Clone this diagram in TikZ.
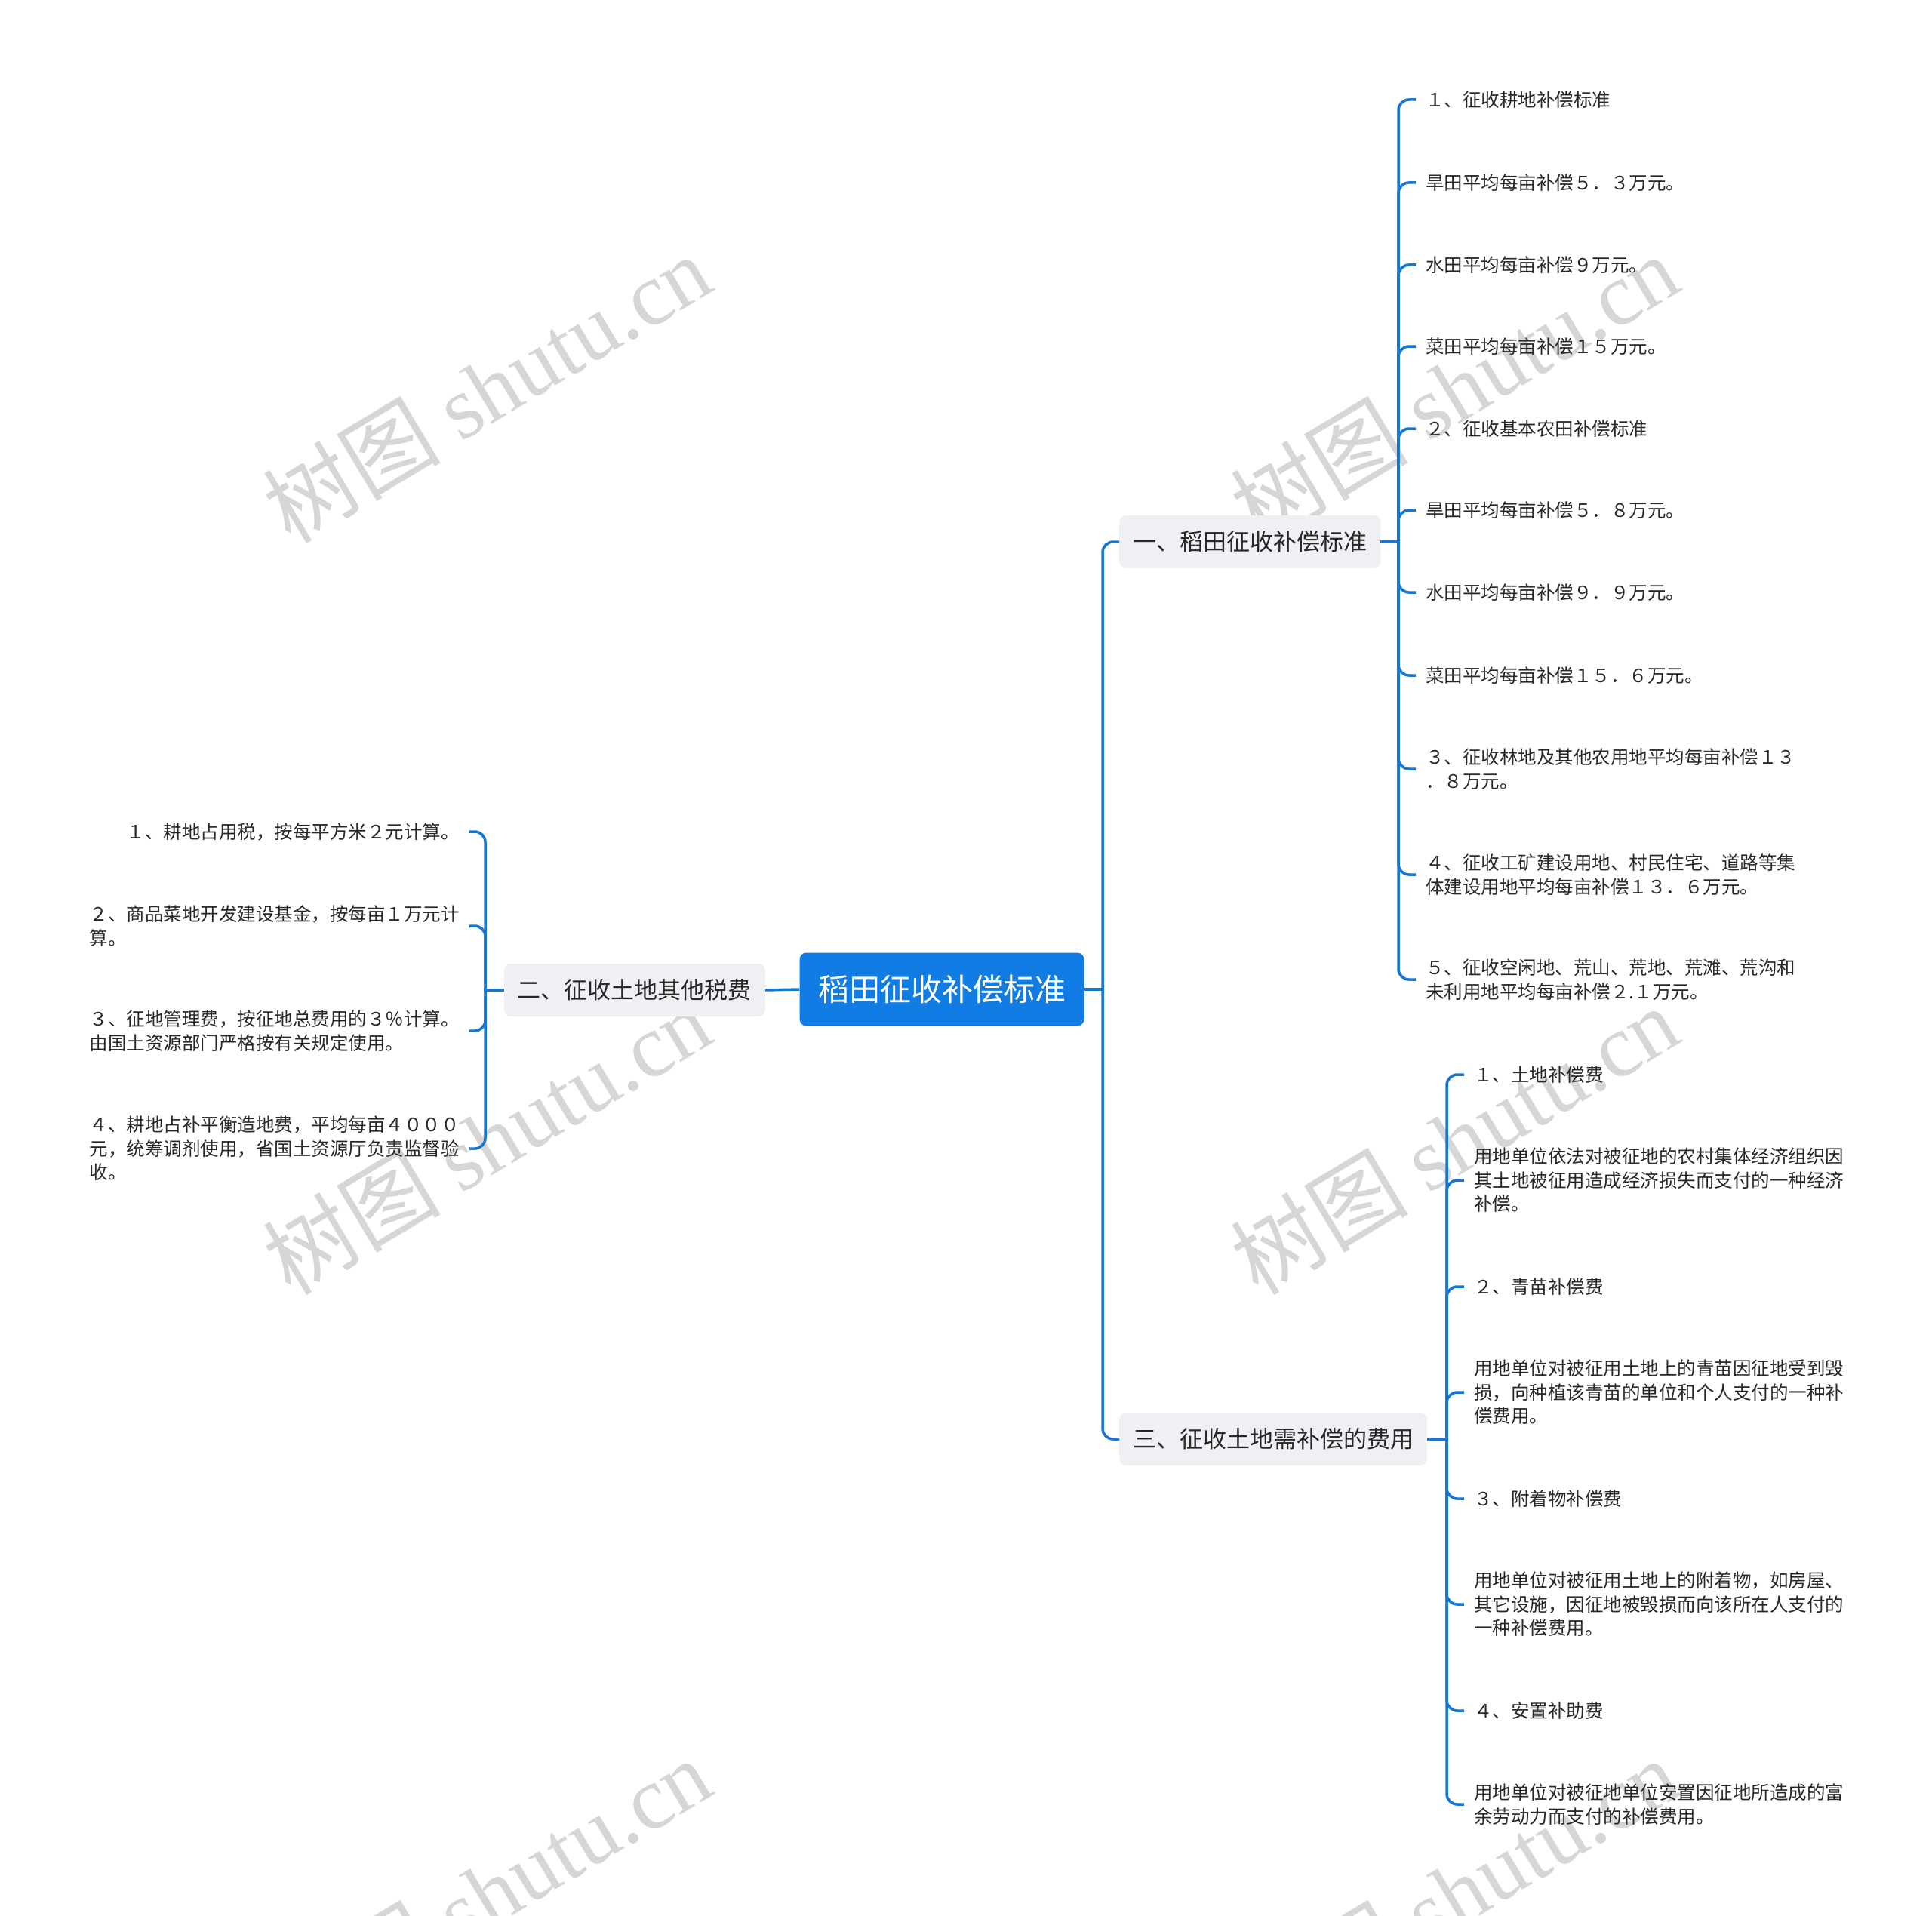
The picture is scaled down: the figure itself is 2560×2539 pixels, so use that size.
\documentclass[tikz,border=0pt]{standalone}
\usepackage{fontspec}
\setmainfont{Noto Sans CJK SC}
\newfontfamily\wmserif{Liberation Serif}
\definecolor{mapblue}{RGB}{17,124,228}
\definecolor{linkblue}{RGB}{22,118,214}
\definecolor{branchgray}{RGB}{238,240,243}
\definecolor{txt}{RGB}{40,40,40}
\definecolor{wmgray}{RGB}{214,214,214}
\begin{document}
\begin{tikzpicture}[x=1pt,y=-1pt,
  rootbox/.style={fill=mapblue, text=white, rounded corners=9pt, minimum width=377pt, minimum height=97pt, inner sep=0pt, font=\fontsize{41}{48}\selectfont},
  branchbox/.style={fill=branchgray, text=txt, rounded corners=9pt, minimum height=70pt, inner xsep=18pt, inner ysep=0pt, font=\fontsize{31}{38}\selectfont},
  leafbox/.style={text=txt, align=left, inner xsep=13pt, inner ysep=4pt, font=\fontsize{24.5}{31.5}\selectfont},
  conn/.style={draw=linkblue, line width=3.5pt, rounded corners=14pt},
  straight/.style={draw=linkblue, line width=3.5pt},
  wm/.style={text=wmgray, font=\fontsize{118}{130}\selectfont, inner sep=0pt}
]
\useasboundingbox (0,0) rectangle (2560,2539);
\fill[white] (0,0) rectangle (2560,2539);

% watermarks
\node[wm, rotate=31] (w1) at (645,514) {树图 {\wmserif shutu.cn}};
\node[wm, rotate=31] (w2) at (1927,514) {树图 {\wmserif shutu.cn}};
\node[wm, rotate=31] (w3) at (645,1510) {树图 {\wmserif shutu.cn}};
\node[wm, rotate=31] (w4) at (1927,1510) {树图 {\wmserif shutu.cn}};
\node[wm, rotate=31] (w5) at (645,2507) {树图 {\wmserif shutu.cn}};
\node[wm, rotate=31] (w6) at (1927,2507) {树图 {\wmserif shutu.cn}};

% root and branches
\node[rootbox] (root) at (1248,1311) {稻田征收补偿标准};
\node[branchbox, anchor=west] (b1) at (1483,718) {一、稻田征收补偿标准};
\node[branchbox, anchor=east] (b2) at (1014,1312) {二、征收土地其他税费};
\node[branchbox, anchor=west] (b3) at (1483,1907) {三、征收土地需补偿的费用};

% junction coordinates
\coordinate (jr) at (1461,1311);
\coordinate (jb1) at (1853,718);
\coordinate (jb2) at (643,1312);
\coordinate (jb3) at (1917,1907);

% branch 1 leaves
\node[leafbox, anchor=west] (r1) at (1876,132) {１、征收耕地补偿标准};
\node[leafbox, anchor=west] (r2) at (1876,242) {旱田平均每亩补偿５．３万元。};
\node[leafbox, anchor=west] (r3) at (1876,351) {水田平均每亩补偿９万元。};
\node[leafbox, anchor=west] (r4) at (1876,459) {菜田平均每亩补偿１５万元。};
\node[leafbox, anchor=west] (r5) at (1876,568) {２、征收基本农田补偿标准};
\node[leafbox, anchor=west] (r6) at (1876,676) {旱田平均每亩补偿５．８万元。};
\node[leafbox, anchor=west] (r7) at (1876,785) {水田平均每亩补偿９．９万元。};
\node[leafbox, anchor=west] (r8) at (1876,895) {菜田平均每亩补偿１５．６万元。};
\node[leafbox, anchor=west] (r9) at (1876,1019) {３、征收林地及其他农用地平均每亩补偿１３\\．８万元。};
\node[leafbox, anchor=west] (r10) at (1876,1159) {４、征收工矿建设用地、村民住宅、道路等集\\体建设用地平均每亩补偿１３．６万元。};
\node[leafbox, anchor=west] (r11) at (1876,1298) {５、征收空闲地、荒山、荒地、荒滩、荒沟和\\未利用地平均每亩补偿２.１万元。};

% branch 2 leaves
\node[leafbox, anchor=east] (l1) at (622,1102) {１、耕地占用税，按每平方米２元计算。};
\node[leafbox, anchor=east] (l2) at (622,1227) {２、商品菜地开发建设基金，按每亩１万元计\\算。};
\node[leafbox, anchor=east] (l3) at (622,1366) {３、征地管理费，按征地总费用的３％计算。\\由国土资源部门严格按有关规定使用。};
\node[leafbox, anchor=east] (l4) at (622,1522) {４、耕地占补平衡造地费，平均每亩４０００\\元，统筹调剂使用，省国土资源厅负责监督验\\收。};

% branch 3 leaves
\node[leafbox, anchor=west] (s1) at (1940,1424) {１、土地补偿费};
\node[leafbox, anchor=west] (s2) at (1940,1564) {用地单位依法对被征地的农村集体经济组织因\\其土地被征用造成经济损失而支付的一种经济\\补偿。};
\node[leafbox, anchor=west] (s3) at (1940,1705) {２、青苗补偿费};
\node[leafbox, anchor=west] (s4) at (1940,1845) {用地单位对被征用土地上的青苗因征地受到毁\\损，向种植该青苗的单位和个人支付的一种补\\偿费用。};
\node[leafbox, anchor=west] (s5) at (1940,1986) {３、附着物补偿费};
\node[leafbox, anchor=west] (s6) at (1940,2126) {用地单位对被征用土地上的附着物，如房屋、\\其它设施，因征地被毁损而向该所在人支付的\\一种补偿费用。};
\node[leafbox, anchor=west] (s7) at (1940,2267) {４、安置补助费};
\node[leafbox, anchor=west] (s8) at (1940,2391) {用地单位对被征地单位安置因征地所造成的富\\余劳动力而支付的补偿费用。};

% root connectors
\draw[straight] (root.east) -- (jr);
\draw[conn] (jr) |- (b1.west);
\draw[conn] (jr) |- (b3.west);
\draw[straight] (root.west) -- (b2.east);

% branch 1 connectors
\draw[straight] (b1.east) -- (jb1);
\foreach \n in {r1,r2,r3,r4,r5,r6,r7,r8,r9,r10,r11}
  \draw[conn] (jb1) |- (\n.west);

% branch 2 connectors
\draw[straight] (b2.west) -- (jb2);
\foreach \n in {l1,l2,l3,l4}
  \draw[conn] (jb2) |- (\n.east);

% branch 3 connectors
\draw[straight] (b3.east) -- (jb3);
\foreach \n in {s1,s2,s3,s4,s5,s6,s7,s8}
  \draw[conn] (jb3) |- (\n.west);
\end{tikzpicture}
\end{document}
